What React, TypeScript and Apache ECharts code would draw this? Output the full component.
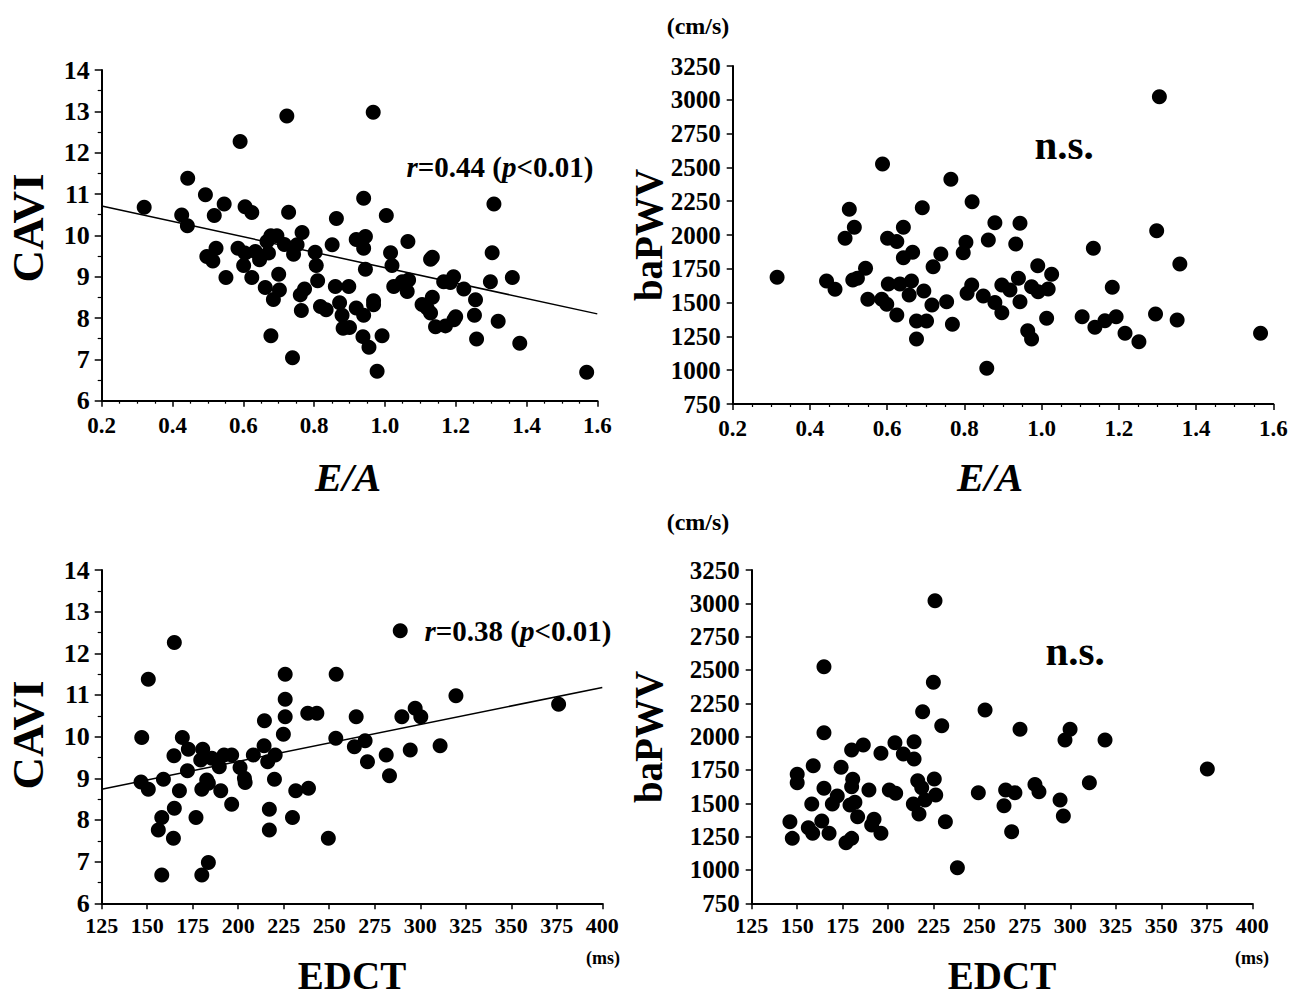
import React, { useEffect, useRef } from "react";
import * as echarts from "echarts";

// ---------- DATA ----------
// Top-left: E/A vs CAVI
const eaCaviPoints: number[][] = [
  [0.32, 10.68], [0.426, 10.49], [0.443, 11.38], [0.442, 10.23], [0.493, 10.98], [0.518, 10.48],
  [0.546, 10.76], [0.591, 12.27], [0.605, 10.69], [0.624, 10.55], [0.723, 12.89], [0.728, 10.56],
  [0.497, 9.49], [0.514, 9.38], [0.523, 9.69], [0.551, 8.98], [0.585, 9.69], [0.601, 9.27],
  [0.624, 8.98], [0.605, 9.57], [0.634, 9.61], [0.646, 9.41], [0.667, 9.85], [0.678, 9.99],
  [0.695, 9.99], [0.671, 9.57], [0.662, 8.74], [0.685, 8.45], [0.702, 8.68], [0.7, 9.06],
  [0.678, 7.57], [0.716, 9.78], [0.742, 9.54], [0.752, 9.77], [0.766, 10.07], [0.761, 8.56],
  [0.773, 8.7], [0.764, 8.18], [0.739, 7.04], [0.803, 9.59], [0.806, 9.27], [0.81, 8.9],
  [0.818, 8.28], [0.834, 8.2], [0.851, 9.77], [0.863, 10.41], [0.86, 8.76], [0.872, 8.37],
  [0.879, 8.07], [0.882, 7.75], [0.898, 8.76], [0.9, 7.77], [0.919, 9.9], [0.94, 10.9],
  [0.945, 9.97], [0.94, 9.69], [0.945, 9.18], [0.919, 8.24], [0.94, 8.07], [0.938, 7.55],
  [0.955, 7.29], [0.967, 12.98], [0.968, 8.42], [0.968, 8.32], [1.004, 10.48], [1.308, 10.76],
  [1.016, 9.58], [1.02, 9.27], [1.065, 9.85], [1.129, 9.42], [1.134, 9.47], [1.303, 9.58],
  [1.025, 8.76], [1.049, 8.88], [1.067, 8.92], [1.063, 8.64], [1.166, 8.88], [1.194, 9.0],
  [1.185, 8.86], [1.223, 8.7], [1.298, 8.88], [1.36, 8.98], [0.992, 7.57], [0.978, 6.71],
  [1.105, 8.33], [1.134, 8.5], [1.119, 8.24], [1.129, 8.12], [1.143, 7.79], [1.171, 7.81],
  [1.195, 7.96], [1.2, 8.03], [1.256, 8.44], [1.253, 8.07], [1.259, 7.49], [1.32, 7.92],
  [1.381, 7.39], [1.57, 6.69],
];
const eaCaviFit: number[][] = [[0.2, 10.71], [1.6, 8.1]];

// Top-right: E/A vs baPWV
const eaPwvPoints: number[][] = [
  [0.315, 1687], [0.443, 1660], [0.465, 1598], [0.491, 1976], [0.515, 2057], [0.502, 2190],
  [0.511, 1667], [0.523, 1680], [0.544, 1754], [0.55, 1524], [0.588, 2525], [0.586, 1524],
  [0.601, 1976], [0.625, 1951], [0.603, 1638], [0.599, 1488], [0.625, 1408], [0.642, 2057],
  [0.642, 1832], [0.666, 1872], [0.633, 1638], [0.663, 1660], [0.657, 1556], [0.695, 1586],
  [0.676, 1364], [0.702, 1364], [0.676, 1231], [0.691, 2202], [0.719, 1766], [0.739, 1860],
  [0.716, 1482], [0.754, 1507], [0.769, 1340], [0.765, 2412], [0.82, 2246], [0.804, 1946],
  [0.797, 1869], [0.819, 1630], [0.807, 1569], [0.849, 1549],
  [0.879, 2091], [0.862, 1963], [0.944, 2087], [0.933, 1933], [0.99, 1773], [1.026, 1709],
  [0.897, 1630], [0.94, 1680], [0.918, 1593], [0.974, 1618], [0.991, 1581], [1.017, 1601],
  [0.944, 1507], [0.879, 1500], [0.897, 1425], [1.013, 1384], [0.964, 1292], [0.974, 1231],
  [0.858, 1014], [1.134, 1902], [1.105, 1396], [1.138, 1317], [1.164, 1366], [1.193, 1396],
  [1.183, 1613], [1.216, 1273], [1.252, 1211], [1.305, 3023], [1.298, 2032], [1.295, 1416],
  [1.358, 1786], [1.351, 1371], [1.567, 1273],
];

// Bottom-left: EDCT vs CAVI
const edctCaviPoints: number[][] = [
  [147.0, 9.98], [150.6, 11.38], [146.6, 8.91], [150.6, 8.74], [164.9, 12.26], [164.7, 9.54],
  [158.9, 8.98], [158.0, 8.06], [156.1, 7.76], [164.4, 7.56], [164.9, 8.28], [158.0, 6.68],
  [167.7, 8.7], [169.3, 9.98], [172.6, 9.7], [172.1, 9.18], [176.8, 8.06], [180.5, 9.7],
  [179.4, 9.44], [180.0, 8.74], [182.7, 8.96], [183.6, 8.88], [183.6, 6.98], [180.0, 6.68],
  [185.5, 9.48], [189.6, 9.28], [190.4, 8.7], [192.2, 9.56], [196.4, 9.56], [196.4, 8.38],
  [201.0, 9.26], [203.4, 9.0], [203.8, 8.9], [208.3, 9.56], [214.2, 9.78], [214.4, 10.38],
  [216.2, 9.4], [220.3, 9.56], [219.9, 8.98], [217.1, 8.26], [217.1, 7.76], [225.8, 11.5],
  [225.8, 10.9], [225.8, 10.48], [224.8, 10.06], [229.8, 8.06], [231.6, 8.7], [238.2, 10.56],
  [243.2, 10.56], [238.6, 8.76], [249.5, 7.56], [253.8, 11.5], [253.6, 9.96], [264.8, 10.48],
  [263.8, 9.76], [269.7, 9.9], [271.0, 9.4], [281.3, 9.56], [283.1, 9.06], [289.9, 10.48],
  [297.2, 10.68], [300.3, 10.48], [294.5, 9.68], [310.9, 9.78], [319.6, 10.98], [376.0, 10.78],
  [289.0, 12.54],
];
const edctCaviFit: number[][] = [[125, 8.74], [400, 11.18]];

// Bottom-right: EDCT vs baPWV
const edctPwvPoints: number[][] = [
  [146.0, 1362], [147.3, 1237], [150.0, 1718], [150.0, 1655], [156.1, 1317], [158.5, 1275],
  [158.0, 1495], [158.8, 1782], [163.5, 1367], [164.7, 2525], [164.7, 2030], [164.7, 1613],
  [167.5, 1275], [169.3, 1495], [172.0, 1555], [174.1, 1770], [176.8, 1205], [179.9, 1237],
  [179.9, 1900], [180.5, 1680], [179.9, 1625], [179.0, 1487], [181.7, 1508], [183.2, 1400],
  [186.3, 1937], [189.4, 1600], [190.9, 1337], [192.2, 1380], [196.0, 1875], [196.0, 1275],
  [200.6, 1600], [204.1, 1575], [203.7, 1955], [208.3, 1870], [214.2, 1962], [214.2, 1833],
  [213.8, 1495], [216.9, 1420], [216.2, 1670], [218.4, 1617], [220.2, 1525], [225.3, 1682],
  [226.1, 1562], [225.7, 3020], [224.8, 2408], [218.9, 2187], [229.4, 2082], [231.4, 1362],
  [238.0, 1017], [253.2, 2200], [249.5, 1580], [263.6, 1482], [264.5, 1600], [269.6, 1580],
  [267.8, 1287], [272.4, 2055], [299.9, 2055], [297.1, 1975], [319.1, 1975], [280.6, 1642],
  [282.8, 1587], [294.4, 1525], [296.2, 1405], [310.5, 1655], [375.3, 1757],
];

// Axis ranges
const eaRange = { min: 0.2, max: 1.6, interval: 0.2 };
const caviRange = { min: 6, max: 14, interval: 1 };
const pwvRange = { min: 750, max: 3250, interval: 250 };
const edctRange = { min: 125, max: 400, interval: 25 };

// Labels
const annotationEA = "{i|r}=0.44 ({i|p}<0.01)";
const annotationEDCT = "{i|r}=0.38 ({i|p}<0.01)";
const nsLabel = "n.s.";
const caviTitle = "CAVI";
const pwvTitle = "baPWV";
const eaTitle = "E/A";
const edctTitle = "EDCT";
const pwvUnit = "(cm/s)";
const edctUnit = "(ms)";

const FONT = "'Liberation Serif', 'Times New Roman', Times, serif";

function axisCfg(
  grid: number,
  range: { min: number; max: number; interval: number },
  fontSize: number,
  margin: number,
  minorSplit: number,
  digits: number,
  tickLen: number
) {
  return {
    type: "value",
    gridIndex: grid,
    min: range.min,
    max: range.max,
    interval: range.interval,
    axisLine: { show: true, onZero: false, lineStyle: { color: "#000", width: 2 } },
    axisTick: { show: true, inside: false, length: tickLen, lineStyle: { color: "#000", width: 1.5 } },
    minorTick: {
      show: minorSplit > 0,
      splitNumber: minorSplit > 0 ? minorSplit : 5,
      length: Math.max(3, tickLen - 3),
      lineStyle: { color: "#000", width: 1.2 },
    },
    splitLine: { show: false },
    minorSplitLine: { show: false },
    axisLabel: {
      color: "#000",
      fontFamily: FONT,
      fontWeight: "bold",
      fontSize,
      margin,
      formatter: (v: number) => v.toFixed(digits),
    },
  };
}

function scatter(idx: number, data: number[][]) {
  return {
    type: "scatter",
    xAxisIndex: idx,
    yAxisIndex: idx,
    data,
    symbol: "circle",
    symbolSize: 15,
    itemStyle: { color: "#000", opacity: 1 },
    silent: true,
  };
}

function fitLine(idx: number, data: number[][]) {
  return {
    type: "line",
    xAxisIndex: idx,
    yAxisIndex: idx,
    data,
    showSymbol: false,
    symbol: "none",
    lineStyle: { color: "#000", width: 1.5 },
    silent: true,
    z: 1,
  };
}

function text(x: number, y: number, t: string, fontSize: number, opts: any = {}) {
  return {
    type: "text",
    x,
    y,
    rotation: opts.rotation || 0,
    silent: true,
    style: {
      text: t,
      fill: "#000",
      fontFamily: FONT,
      fontWeight: "bold",
      fontStyle: opts.italic ? "italic" : "normal",
      fontSize,
      align: "center",
      verticalAlign: "middle",
      rich: opts.rich,
    },
  };
}

const richAnno = (size: number) => ({
  i: { fontFamily: FONT, fontWeight: "bold", fontStyle: "italic", fontSize: size, fill: "#000" },
});

export default function App() {
  const ref = useRef<HTMLDivElement>(null);

  useEffect(() => {
    document.body.style.margin = "0";
    if (!ref.current) return;
    const chart = echarts.init(ref.current, null, { renderer: "svg" });

    const grids = [
      { left: 101.7, top: 70, width: 495.6, height: 330.7 },
      { left: 732.7, top: 66, width: 540.6, height: 338 },
      { left: 101.7, top: 570, width: 500.6, height: 333.3 },
      { left: 751.7, top: 570, width: 500.6, height: 333.3 },
    ].map((g) => ({ ...g, containLabel: false, outerBoundsMode: "none", show: false }));

    const option: any = {
      animation: false,
      backgroundColor: "#fff",
      grid: grids,
      xAxis: [
        axisCfg(0, eaRange, 23, 13, 4, 1, 6),
        axisCfg(1, eaRange, 23, 13, 4, 1, 6),
        axisCfg(2, edctRange, 22, 11, 0, 0, 6),
        axisCfg(3, edctRange, 22, 11, 0, 0, 6),
      ],
      yAxis: [
        axisCfg(0, caviRange, 26, 12, 2, 0, 7),
        axisCfg(1, pwvRange, 25, 12, 0, 0, 6),
        axisCfg(2, caviRange, 26, 12, 2, 0, 7),
        axisCfg(3, pwvRange, 25, 12, 0, 0, 6),
      ],
      series: [
        fitLine(0, eaCaviFit),
        scatter(0, eaCaviPoints),
        scatter(1, eaPwvPoints),
        fitLine(2, edctCaviFit),
        scatter(2, edctCaviPoints),
        scatter(3, edctPwvPoints),
      ],
      graphic: [
        text(28, 228, caviTitle, 45, { rotation: Math.PI / 2 }),
        text(28, 735, caviTitle, 45, { rotation: Math.PI / 2 }),
        text(648, 235, pwvTitle, 39, { rotation: Math.PI / 2 }),
        text(648, 737, pwvTitle, 39, { rotation: Math.PI / 2 }),
        text(348, 477, eaTitle, 41, { italic: true }),
        text(990, 477, eaTitle, 41, { italic: true }),
        text(352, 975, edctTitle, 39),
        text(1002, 975, edctTitle, 39),
        text(698, 26, pwvUnit, 24),
        text(698, 522, pwvUnit, 24),
        text(603, 958, edctUnit, 18),
        text(1252, 958, edctUnit, 18),
        text(1064, 145, nsLabel, 41),
        text(1075, 651, nsLabel, 41),
        text(500, 167, annotationEA, 29, { rich: richAnno(29) }),
        text(518, 631, annotationEDCT, 29, { rich: richAnno(29) }),
      ],
    };
    chart.setOption(option);
    return () => chart.dispose();
  }, []);

  return <div ref={ref} style={{ width: 1292, height: 995 }} />;
}
